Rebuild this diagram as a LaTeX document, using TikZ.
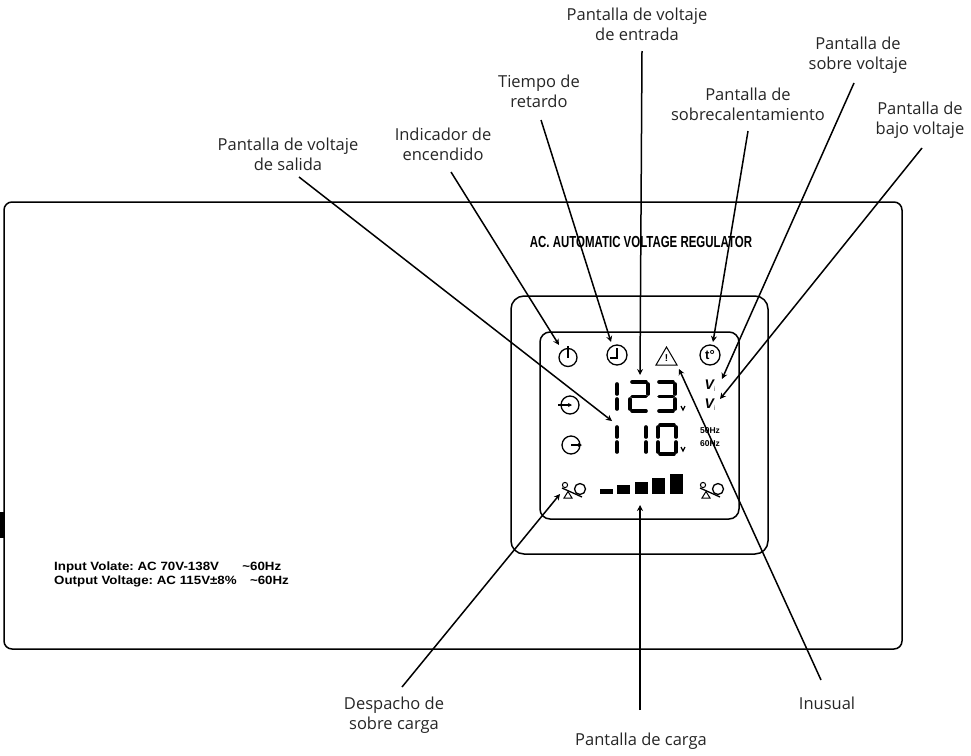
\documentclass[tikz,border=0pt]{standalone}
\usepackage{fontspec}
\setmainfont{Open Sans}
\newfontfamily\panelfont{Liberation Sans}
\usetikzlibrary{arrows.meta,positioning}

\tikzset{
    caption/.style={font=\fontsize{16.5}{20}\selectfont, align=center, text=black!85, inner sep=0pt},
    casing/.style={draw, line width=1.5pt},
    lcdicon/.style={draw, line width=1.3pt},
    segline/.style={line width=3.6pt, line cap=round},
    callout/.style={->, >={Stealth[length=6pt,width=6pt]}, line width=1.5pt},
    hzlabel/.style={font=\panelfont\bfseries\fontsize{8.5}{9}\selectfont, inner sep=0pt},
    vilabel/.style={font=\panelfont\itshape\bfseries\fontsize{14}{14}\selectfont, inner sep=0pt},
    loadicon/.pic={
        \draw[lcdicon, line width=1pt] (3,3) circle (2.6);
        \draw[lcdicon] (0,6) -- (20,15);
        \draw[lcdicon] (18,7) circle (5.5);
        \draw[lcdicon, line width=1pt] (6,9.5) -- (2,16) -- (10,16) -- cycle;
    }
}

\newcommand{\sega}{\draw[segline] (2,0) -- (16,0);}
\newcommand{\segb}{\draw[segline] (18,2) -- (18,12);}
\newcommand{\segc}{\draw[segline] (18,17) -- (18,27);}
\newcommand{\segd}{\draw[segline] (2,29) -- (16,29);}
\newcommand{\sege}{\draw[segline] (0,17) -- (0,27);}
\newcommand{\segf}{\draw[segline] (0,2) -- (0,12);}
\newcommand{\segg}{\draw[segline] (2,14.5) -- (16,14.5);}
\newcommand{\lcddigit}[3]{%
    \begin{scope}[shift={(#1,#2)}]
        \foreach \s in {#3} {\csname seg\s\endcsname}
    \end{scope}}
\newcommand{\vismall}{V\raisebox{-2pt}{\panelfont\mdseries\upshape\fontsize{7}{7}\selectfont\textcolor{black!60}{i}}}

\begin{document}
\begin{tikzpicture}[x=1pt, y=-1pt]
    \useasboundingbox (0,0) rectangle (971,755);

    % casing
    \fill (0,512) rectangle (4,538);
    \draw[casing, rounded corners=8pt] (4,202) rectangle (902,649);
    \draw[casing, rounded corners=13pt] (511,296) rectangle (768,554);
    \draw[casing, rounded corners=10pt] (540,332) rectangle (739,519);

    \node[font=\panelfont\bfseries\fontsize{16}{18}\selectfont, xscale=0.716, inner sep=0pt] (title) at (641,242) {AC. AUTOMATIC VOLTAGE REGULATOR};
    \node[font=\panelfont\bfseries\fontsize{12}{14}\selectfont, xscale=1.11, align=left, anchor=west, inner sep=0pt] (specs) at (54,574)
        {\frenchspacing Input Volate: AC 70V-138V\hspace{21pt}\textasciitilde60Hz\\\frenchspacing Output Voltage: AC 115V±8\%\hspace{12pt}\textasciitilde60Hz};

    % icons
    \draw[lcdicon] (568,357.5) circle (9);
    \draw[lcdicon, line width=1.5pt] (568,346) -- (568,358);
    \draw[lcdicon] (617,355) circle (10);
    \draw[lcdicon] (617,348) -- (617,358) -- (610,358);
    \draw[lcdicon, line width=1pt] (666.5,347) -- (677,365) -- (656,365) -- cycle;
    \node[font=\panelfont\bfseries\fontsize{10}{10}\selectfont, inner sep=0pt] (warn) at (666.5,358.5) {!};
    \draw[lcdicon] (710,355) circle (10);
    \node[font=\panelfont\bfseries\fontsize{13}{13}\selectfont, inner sep=0pt] (temp) at (710,355) {t°};
    \draw[lcdicon] (570,405) circle (9);
    \draw[lcdicon, ->, >={Stealth[length=4pt,width=4pt]}] (558,405) -- (572,405);
    \draw[lcdicon] (571,445) circle (9);
    \draw[lcdicon, ->, >={Stealth[length=4pt,width=4pt]}] (571,445) -- (582,445);
    \node[vilabel] (vhigh) at (710,386) {\vismall};
    \node[vilabel] (vlow) at (710,405) {\vismall};
    \node[hzlabel] (hz50) at (710,431) {50Hz};
    \node[hzlabel] (hz60) at (710,443.5) {60Hz};
    \pic at (562,482) {loadicon};
    \pic at (700,482) {loadicon};

    % digits
    \lcddigit{599}{382}{b,c}
    \lcddigit{630}{382}{a,b,g,e,d}
    \lcddigit{657}{382}{a,b,g,c,d}
    \lcddigit{599}{425}{b,c}
    \lcddigit{628}{425}{b,c}
    \lcddigit{658}{425}{a,b,c,d,e,f}
    \draw[lcdicon] (681,406) -- (683,410) -- (685,406);
    \draw[lcdicon] (681,447) -- (683,451) -- (685,447);

    % load bars
    \foreach \x/\y in {600/489, 617/485, 635/482, 652/478, 670/474}
        \fill (\x,\y) rectangle ++(13,494-\y);

    % captions
    \node[caption] (lblIn) at (637,24) {Pantalla de voltaje\\de entrada};
    \node[caption] (lblOver) at (858,55) {Pantalla de\\sobre voltaje};
    \node[caption] (lblHeat) at (748,104) {Pantalla de\\sobrecalentamiento};
    \node[caption] (lblUnder) at (920,120) {Pantalla de\\bajo voltaje};
    \node[caption] (lblDelay) at (539,91) {Tiempo de\\retardo};
    \node[caption] (lblPower) at (443,144) {Indicador de\\encendido};
    \node[caption] (lblOut) at (288,154) {Pantalla de voltaje\\de salida};
    \node[caption] (lblDisp) at (394,715) {Despacho de\\sobre carga};
    \node[caption] (lblOdd) at (827,703) {Inusual};
    \node[caption] (lblLoad) at (641,741) {Pantalla de carga};

    \coordinate (tipIn) at (640,375);
    \coordinate (tipOver) at (722,379);
    \coordinate (tipHeat) at (713,342);
    \coordinate (tipUnder) at (720,399);
    \coordinate (tipDelay) at (611,342);
    \coordinate (tipPower) at (559,345);
    \coordinate (tipOut) at (612,421);
    \coordinate (tipDisp) at (560,494);
    \coordinate (tipOdd) at (679,369);
    \coordinate (tipLoad) at (640,505);

    \path[callout]
        ([shift={(5,27)}]lblIn.center) edge (tipIn)
        ([shift={(-4,28)}]lblOver.center) edge (tipOver)
        ([shift={(0,27)}]lblHeat.center) edge (tipHeat)
        ([shift={(2,28)}]lblUnder.center) edge (tipUnder)
        ([shift={(2,29)}]lblDelay.center) edge (tipDelay)
        ([shift={(8,28)}]lblPower.center) edge (tipPower)
        ([shift={(11,23)}]lblOut.center) edge (tipOut)
        ([shift={(8,-28)}]lblDisp.center) edge (tipDisp)
        ([shift={(-6,-23)}]lblOdd.center) edge (tipOdd)
        ([shift={(-1,-31)}]lblLoad.center) edge (tipLoad);
\end{tikzpicture}
\end{document}
